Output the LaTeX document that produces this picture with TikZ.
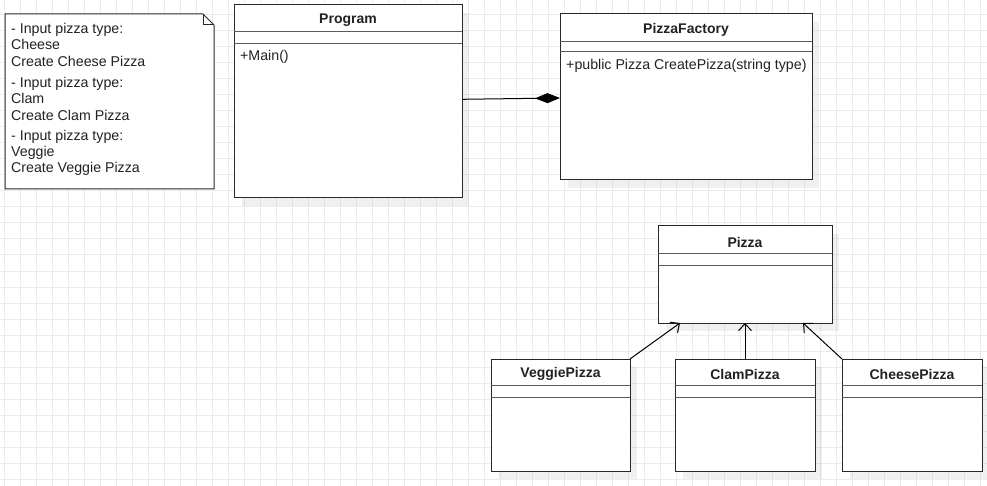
\documentclass[tikz,border=0pt]{standalone}
\usepackage{fontspec}
\setmainfont{Liberation Sans}
\usetikzlibrary{arrows.meta,calc}
\definecolor{gridc}{RGB}{236,236,236}
\definecolor{linec}{RGB}{40,40,40}
\definecolor{sepc}{RGB}{90,90,90}
\definecolor{txtc}{RGB}{34,34,34}
\tikzset{
  clsbox/.style={draw=linec, line width=1pt, fill=white, inner sep=0pt, outer sep=0pt, anchor=north west},
  clsshadow/.style={fill=black, fill opacity=0.06},
  clstitle/.style={font=\fontsize{14}{16}\selectfont\bfseries, text=txtc, inner sep=0pt},
  clsline/.style={draw=sepc, line width=1pt},
  member/.style={font=\fontsize{14.2}{16}\selectfont, text=txtc, inner sep=0pt, anchor=west},
  notetext/.style={font=\fontsize{14.2}{16}\selectfont, text=txtc, inner sep=0pt, anchor=base west},
  notebox/.style={draw=linec, line width=1pt, fill=white},
  conn/.style={draw=black, line width=1pt},
  inherit/.style={conn, -{Straight Barb[length=7pt,width=13pt,line width=1pt]}},
  compose/.style={conn, -{Diamond[length=25pt,width=10pt,fill=black]}}
}
% name, x, y, w, h, title, header height, separator height
\newcommand\umlcls[8]{%
  \fill[clsshadow] (#2+8,#3+8) rectangle (#2+#4+7,#3+#5+8);
  \node[clsbox, minimum width=#4pt, minimum height=#5pt] (#1) at (#2,#3) {};
  \node[clstitle] (#1-t) at (#2+#4/2,#3+#7/2+2) {#6};
  \draw[clsline] (#2,#3+#7) coordinate (#1-a) -- (#2+#4,#3+#7) coordinate (#1-b);
  \draw[clsline] (#2,#3+#7+#8) coordinate (#1-c) -- (#2+#4,#3+#7+#8) coordinate (#1-d);
}
\begin{document}
\begin{tikzpicture}[x=1pt,y=-1pt]
\useasboundingbox (0,0) rectangle (987,486);
\fill[white] (0,0) rectangle (987,486);
% grid
\foreach \gx in {4,20,...,987} \draw[gridc, line width=1pt] (\gx,0) -- (\gx,486);
\foreach \gy in {15,31,...,486} \draw[gridc, line width=1pt] (0,\gy) -- (987,\gy);

% note
\draw[notebox] (5,14) coordinate (nA) -- (203,14) -- (214,25) -- (214,189) -- (5,189) -- cycle;
\draw[linec, line width=1pt] (203,14) -- (203,25) -- (214,25);
\node[notetext] (n1) at (11,33.5) {- Input pizza type:};
\node[notetext] (n2) at (11,49.5) {Cheese};
\node[notetext] (n3) at (11,67) {Create Cheese Pizza};
\node[notetext] (n4) at (11,88) {- Input pizza type:};
\node[notetext] (n5) at (11,104) {Clam};
\node[notetext] (n6) at (11,121) {Create Clam Pizza};
\node[notetext] (n7) at (11,141) {- Input pizza type:};
\node[notetext] (n8) at (11,157) {Veggie};
\node[notetext] (n9) at (11,173) {Create Veggie Pizza};

% classes
\umlcls{prog}{234}{5}{228}{193}{Program}{27}{12}
\node[member] (progm) at (240,56.5) {+Main()};
\umlcls{fac}{560}{14}{252}{166}{PizzaFactory}{28}{10}
\node[member] (facm) at (566,65.5) {+public Pizza CreatePizza(string type)};
\umlcls{pizza}{658}{226}{174}{97}{Pizza}{28}{11}
\umlcls{veg}{491}{359}{139}{112}{VeggiePizza}{26}{12}
\umlcls{clam}{675}{359}{140}{112}{ClamPizza}{26}{12}
\umlcls{chs}{842}{359}{140}{112}{CheesePizza}{26}{12}

% connectors
\draw[compose] ([yshift=2.2pt]prog.east) -- ([yshift=-1pt]fac.west);
\draw[inherit] (veg.north east) -- ([xshift=22pt]pizza.south west);
\draw[inherit] (clam.north) -- (pizza.south);
\draw[inherit] (chs.north west) -- ([xshift=-29pt]pizza.south east);
\end{tikzpicture}
\end{document}
